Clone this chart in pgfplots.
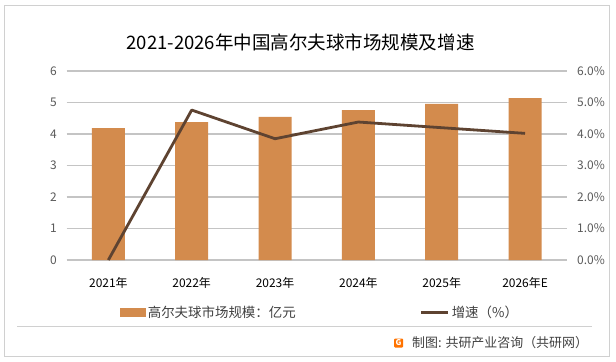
\documentclass[border=0pt]{standalone}
\usepackage{pgfplots}
\pgfplotsset{compat=1.18}
\usepackage{fontspec}
\setmainfont{Noto Sans CJK SC}
\definecolor{barc}{HTML}{D38B4D}
\definecolor{linec}{HTML}{5E4331}
\definecolor{gridc}{HTML}{C4C4C4}
\definecolor{borderc}{HTML}{D0D0D0}
\definecolor{tickc}{HTML}{595959}
\definecolor{txtc}{HTML}{404040}
\begin{document}
\begin{tikzpicture}[x=1bp,y=1bp]
\path (0,0) rectangle (616,361);
\draw[borderc, line width=1bp] (4.7,4.5) rectangle (609.3,355.3);
\draw[borderc, line width=1bp] (17,35) -- (591.7,35);
\node[font=\fontsize{18.6}{22}\selectfont, text=black] at (300.5,319) {2021-2026年中国高尔夫球市场规模及增速};
\begin{axis}[
  at={(66.7bp,101bp)}, anchor=south west,
  scale only axis, width=500bp, height=189bp,
  xmin=-0.5, xmax=5.5, ymin=0, ymax=6,
  ytick={0,1,2,3,4,5,6},
  xtick={0,1,2,3,4,5},
  xticklabels={2021年,2022年,2023年,2024年,2025年,2026年E},
  axis line style={draw=none},
  major tick length=0pt,
  ymajorgrids=true, grid style={draw=gridc, line width=1.2bp},
  /pgf/number format/assume math mode=true,
  ticklabel style={font=\fontsize{12}{14}\selectfont, text=tickc},
  xticklabel style={yshift=-14bp, text=black},
  yticklabel style={xshift=-6.5bp},
]
\addplot[ybar, bar width=33bp, fill=barc, draw=none] coordinates {
(0,4.19) (1,4.38) (2,4.54) (3,4.76) (4,4.96) (5,5.14)};
\end{axis}
\begin{axis}[
  at={(66.7bp,101bp)}, anchor=south west,
  scale only axis, width=500bp, height=189bp,
  xmin=-0.5, xmax=5.5, ymin=0, ymax=6,
  axis x line=none, axis y line*=right,
  y axis line style={draw=none}, major tick length=0pt,
  ytick={0,1,2,3,4,5,6},
  yticklabels={0.0\%,1.0\%,2.0\%,3.0\%,4.0\%,5.0\%,6.0\%},
  /pgf/number format/assume math mode=true,
  ticklabel style={font=\fontsize{12}{14}\selectfont, text=tickc},
  yticklabel style={xshift=7bp},
  legend style={at={(0.507,-0.278)}, anchor=center, draw=none, fill=none,
    legend columns=2, font=\fontsize{13.5}{15}\selectfont, text=txtc,
    /tikz/every even column/.append style={column sep=122bp},
    cells={anchor=west}},
]
\addlegendimage{legend image code/.code={\fill[barc] (0bp,-4bp) rectangle (25bp,4bp);}}
\addlegendentry{高尔夫球市场规模：亿元}
\addplot[linec, line width=2.8bp, line join=round, mark=none,
  legend image code/.code={\draw[linec, line width=3bp] (0bp,0bp) -- (27bp,0bp);}] coordinates {
(0,0) (1,4.76) (2,3.85) (3,4.38) (4,4.2) (5,4.02)};
\addlegendentry{增速（\%）}
\end{axis}
\fill[orange!90!red, rounded corners=1bp] (394,13.5) rectangle (403,22.5);
\node[text=white, font=\fontsize{8}{8}\bfseries\selectfont, inner sep=0pt] at (398.5,18) {G};
\node[anchor=west, inner sep=0pt, font=\fontsize{13}{15}\selectfont, text=txtc] at (412,18.5) {制图: 共研产业咨询（共研网）};
\end{tikzpicture}
\end{document}
